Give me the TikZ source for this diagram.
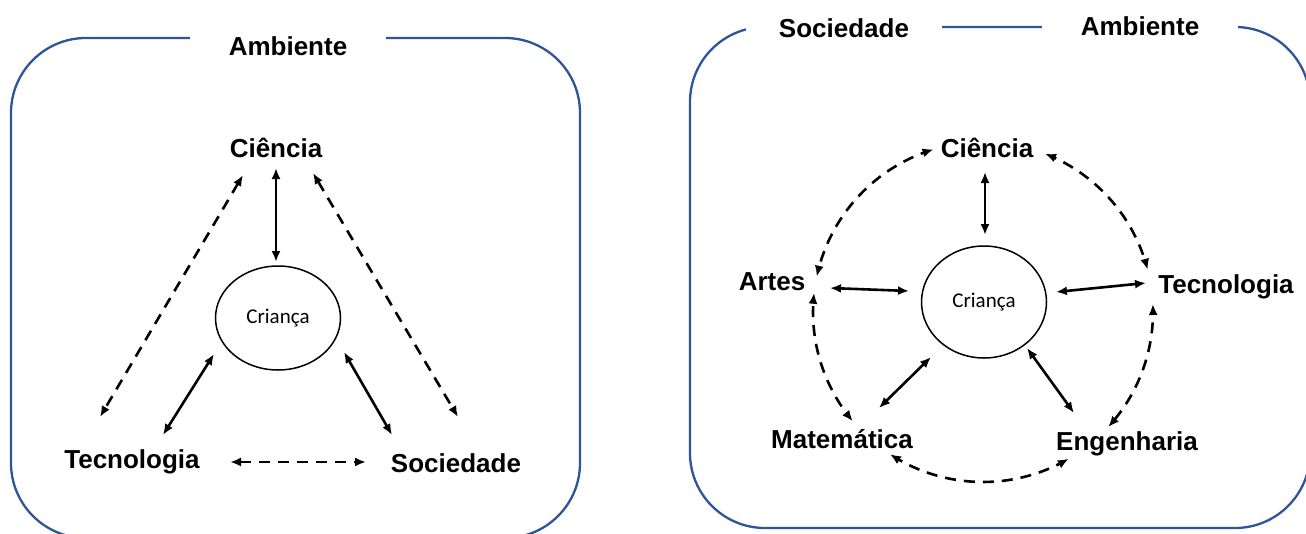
\documentclass[tikz,border=0pt]{standalone}
\usepackage{fontspec}
\setmainfont{Liberation Sans}
\newfontfamily\crfont{Carlito}
\usetikzlibrary{shapes.geometric, arrows.meta, calc}
\definecolor{boxblue}{HTML}{2F5597}
\begin{document}
\begin{tikzpicture}[x=1pt, y=-1pt,
  lbl/.style={font=\fontsize{26}{30}\selectfont\bfseries, inner sep=0pt, anchor=base},
  toplbl/.style={lbl, fill=white, inner sep=3pt, minimum width=196pt},
  kid/.style={draw, ellipse, line width=1.5pt, inner sep=0pt, font=\crfont\fontsize{21}{24}\selectfont},
  frame/.style={draw=boxblue, line width=2.3pt, rounded corners=75pt},
  solidarr/.style={line width=2.6pt, {Latex[length=11pt,width=9pt]}-{Latex[length=11pt,width=9pt]}},
  dasharr/.style={line width=2.6pt, dash pattern=on 11pt off 8pt, {Latex[length=11pt,width=9pt]}-{Latex[length=11pt,width=9pt]}},
]
\useasboundingbox (0,0) rectangle (1306,533);
\fill[white] (0,0) rectangle (1306,533);

% frames
\draw[frame] (11,38) rectangle (580,538);
\draw[frame] (690,27) rectangle (1310,528);

% left panel
\node[toplbl] (amb1) at (288,55) {Ambiente};
\node[lbl] (cie1) at (276,157) {Ciência};
\node[lbl] (tec1) at (132,468) {Tecnologia};
\node[lbl] (soc1) at (456,472) {Sociedade};
\node[kid, minimum width=125pt, minimum height=104pt] (ch1) at (278,318) {Criança};

\draw[solidarr] ($(cie1.base)+(0,11)$) -- ($(ch1.center)+(-2,-56)$);
\draw[dasharr] ($(cie1.base)+(-33,18)$) -- ($(tec1.base)+(-32,-51)$);
\draw[dasharr] ($(cie1.base)+(37,16)$) -- ($(soc1.base)+(2,-55)$);
\draw[solidarr] ($(ch1.center)+(-64,36)$) -- ($(tec1.base)+(31,-33)$);
\draw[solidarr] ($(ch1.center)+(66,34)$) -- ($(soc1.base)+(-64,-37)$);
\draw[dasharr] ($(tec1.base)+(98,-6)$) -- ($(soc1.base)+(-90,-10)$);

% right panel
\node[toplbl] (soc2) at (844,37.5) {Sociedade};
\node[toplbl] (amb2) at (1140,35) {Ambiente};
\node[lbl] (cie2) at (987,157) {Ciência};
\node[lbl] (art2) at (772,290) {Artes};
\node[lbl] (tec2) at (1226,293) {Tecnologia};
\node[lbl] (mat2) at (842,448) {Matemática};
\node[lbl] (eng2) at (1127,450) {Engenharia};
\node[kid, minimum width=125pt, minimum height=112pt] (ch2) at (984,302) {Criança};
\coordinate (ring) at (983,312);

\draw[solidarr] ($(cie2.base)+(-2,15)$) -- ($(ch2.center)+(1,-67)$);
\draw[solidarr] ($(art2.base)+(58,-2)$) -- ($(ch2.center)+(-75,-11)$);
\draw[solidarr] ($(ch2.center)+(72,-10)$) -- ($(tec2.base)+(-80,-10)$);
\draw[solidarr] ($(mat2.base)+(37,-40)$) -- ($(ch2.center)+(-53,55)$);
\draw[solidarr] ($(ch2.center)+(43,46)$) -- ($(eng2.base)+(-53,-37)$);

\draw[dasharr, shift={(ring)}] plot[domain=-106.9:-168, samples=30] (\x:170);
\draw[dasharr, shift={(ring)}] plot[domain=-68.6:-14.4, samples=30] (\x:170);
\draw[dasharr, shift={(ring)}] plot[domain=-2.7:42.6, samples=30] (\x:170);
\draw[dasharr, shift={(ring)}] plot[domain=59.7:123.2, samples=30] (\x:170);
\draw[dasharr, shift={(ring)}] plot[domain=140:186.5, samples=30] (\x:170);
\end{tikzpicture}
\end{document}
